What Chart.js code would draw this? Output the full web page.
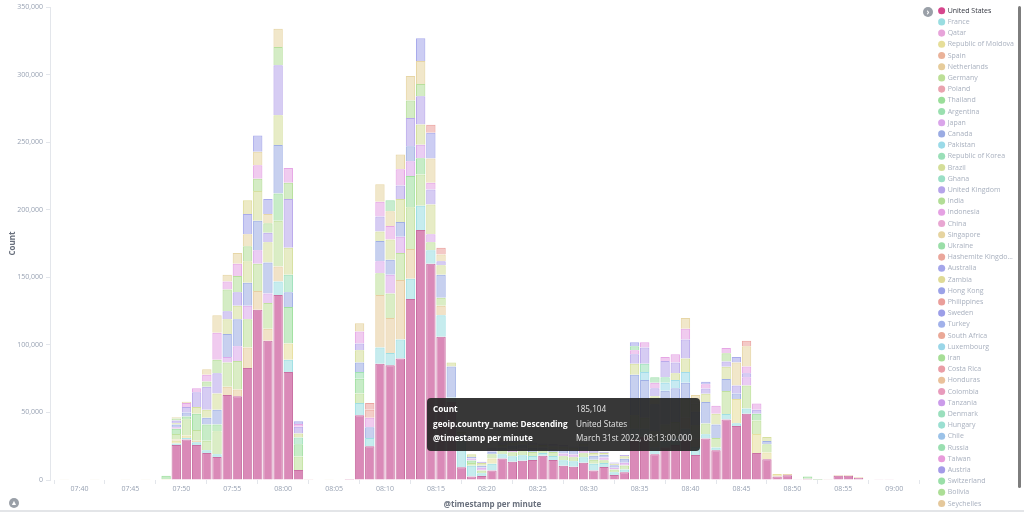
<!DOCTYPE html>
<html>
<head>
<meta charset="utf-8">
<script src="https://cdn.jsdelivr.net/npm/chart.js@4.4.1/dist/chart.umd.min.js"></script>
<style>
  html, body { margin: 0; padding: 0; background: #fff; }
  #wrap { position: relative; width: 1024px; height: 513px; overflow: hidden; font-family: 'Open Sans', sans-serif; }
  #myChart { position: absolute; left: 0; top: 0; }
  .tip { position: absolute; left: 427px; top: 398px; width: 273px; height: 53px; background: rgba(40, 40, 40, 0.93);
         border-radius: 4px; color: #fff; font-size: 8.2px; }
  .tip div { position: absolute; white-space: nowrap; }
  .tip .k { left: 6px; font-weight: bold; }
  .tip .v { left: 149px; color: #e6e6e6; }
  .scroll { position: absolute; left: 1018px; top: 6px; width: 3px; height: 482px; background: #7d7d7d; border-radius: 2px; }
  .toggle { position: absolute; left: 923px; top: 7px; width: 10px; height: 10px; border-radius: 50%; background: #9aa0a8;
            color: #fff; font-size: 8px; line-height: 9px; text-align: center; font-weight: bold; }
  .collapse { position: absolute; left: 9px; top: 498px; width: 10px; height: 10px; border-radius: 50%; background: #9aa0a8;
              color: #fff; font-size: 7px; line-height: 10px; text-align: center; }
  .bottomline { position: absolute; left: 0; top: 510px; width: 1024px; height: 2px; background: #e3e5e8; }
</style>
</head>
<body>
<div id="wrap">
  <canvas id="myChart" width="1024" height="513"></canvas>
  <div class="scroll"></div>
  <div class="toggle">›</div>
  <div class="collapse">▲</div>
  <div class="bottomline"></div>
  <div class="tip">
    <div class="k" style="top:5px">Count</div><div class="v" style="top:5px">185,104</div>
    <div class="k" style="top:19.5px">geoip.country_name: Descending</div><div class="v" style="top:19.5px">United States</div>
    <div class="k" style="top:34px">@timestamp per minute</div><div class="v" style="top:34px">March 31st 2022, 08:13:00.000</div>
  </div>
</div>
<script>
// minute buckets
const bucketTimes = [
  '07:37','07:38','07:39','07:40','07:41','07:42','07:43','07:44','07:45','07:46',
  '07:47','07:48','07:49','07:50','07:51','07:52','07:53','07:54','07:55','07:56',
  '07:57','07:58','07:59','08:00','08:01','08:02','08:03','08:04','08:05','08:06',
  '08:07','08:08','08:09','08:10','08:11','08:12','08:13','08:14','08:15','08:16',
  '08:17','08:18','08:19','08:20','08:21','08:22','08:23','08:24','08:25','08:26',
  '08:27','08:28','08:29','08:30','08:31','08:32','08:33','08:34','08:35','08:36',
  '08:37','08:38','08:39','08:40','08:41','08:42','08:43','08:44','08:45','08:46',
  '08:47','08:48','08:49','08:50','08:51','08:52','08:53','08:54','08:55','08:56',
  '08:57','08:58','08:59','09:00'
];
const tickLabels = ['07:40','07:45','07:50','07:55','08:00','08:05','08:10','08:15','08:20',
  '08:25','08:30','08:35','08:40','08:45','08:50','08:55','09:00'];

const countries = ['United States','France','Qatar','Republic of Moldova','Spain','Netherlands','Germany','Poland',
  'Thailand','Argentina','Japan','Canada','Pakistan','Republic of Korea','Brazil','Ghana','United Kingdom','India',
  'Indonesia','China','Singapore','Ukraine','Hashemite Kingdo...','Australia','Zambia','Hong Kong','Philippines',
  'Sweden','Turkey','South Africa','Luxembourg','Iran','Costa Rica','Honduras','Colombia','Tanzania','Denmark',
  'Hungary','Chile','Russia','Taiwan','Austria','Switzerland','Bolivia','Seychelles'];
const legendColors = ['#D6468D','#8ED9DE','#E49AD6','#E3DA8E','#E8AA8E','#E3C690','#B5DC8C','#E899A6',
  '#8FDA8F','#8FDCA6','#D69BE8','#8FA2E0','#8FD6E6','#8FDCB0','#CFDA8E','#8FDCC0','#AE9AE8','#AAD98B',
  '#E297E0','#E69CCD','#E3CF96','#8FDA9F','#E89C90','#9A9CE8','#DBD68B','#9098E6','#E8948F',
  '#9193E6','#97A9E8','#E89E8C','#8FD2E6','#9CDA8B','#E8929C','#E8BA90','#E690B5','#C590E8','#8FDCB6',
  '#8FDCCC','#90BBE6','#8FDCA8','#E690D7','#9A90E6','#8FDC9F','#A3DA8B','#E2C290'];

const unitedStates = [
  300,300,400,300,300,400,300,300,300,300,
  300,300,26000,30000,26000,20000,17000,63000,62000,83000,
  126000,103000,137000,80000,7400,500,300,300,300,800,
  48000,25000,86000,85000,90000,134000,185104,160000,106000,58000,
  9500,2500,3000,7000,16000,13500,14300,14800,18000,14800,
  10600,9800,12800,7000,9600,3700,5700,30000,32000,19000,
  24000,26000,30000,18500,30800,22000,44800,40000,49000,20000,
  15400,2500,3500,500,1000,200,200,3200,3200,1700,
  400,200,200,400];
const france = [
  0,0,0,0,0,0,0,0,0,0,
  0,0,1000,1000,2000,2000,2000,0,0,0,
  0,0,10000,9000,0,0,0,0,0,0,
  9000,6000,12000,9000,14000,15000,18000,10000,16000,3000,
  22000,8000,2000,5000,3000,4000,4000,3000,2000,3000,
  4000,4000,4000,5000,3000,2000,2000,8000,6000,5000,
  5000,5000,8000,6000,3000,2000,4000,2000,4000,0,
  0,0,0,0,0,0,0,0,0,0,
  0,0,0,0];
const moldova = [
  0,0,0,0,0,0,0,0,0,0,
  0,400,2000,2000,0,0,0,0,0,0,
  0,0,0,12000,0,0,0,0,0,0,
  0,0,0,0,0,0,0,0,0,0,
  0,0,0,4000,0,0,0,0,0,0,
  0,0,0,0,0,0,0,0,0,0,
  0,0,0,0,0,0,0,18000,0,14000,
  5000,1900,0,0,0,0,200,0,0,500,
  0,0,0,0];
const netherlands = [
  0,200,0,0,200,0,0,200,0,200,
  0,0,1000,0,1000,0,0,6000,5000,15000,
  14000,9000,11000,0,0,300,0,300,0,0,
  0,0,39000,26000,44000,22000,0,0,7000,0,
  0,0,0,0,0,0,0,0,0,0,
  0,0,0,0,0,0,0,0,0,0,
  0,0,8000,6000,0,0,0,0,0,0,
  0,0,900,0,0,0,0,500,500,0,
  0,0,0,0];
const germany = [
  0,0,0,0,0,0,0,0,0,0,
  0,0,4000,12000,8000,7000,17000,18000,21000,21000,
  20000,19000,34000,0,10000,0,0,0,0,0,
  7000,0,16000,18000,20000,31000,23000,6000,6000,0,
  0,2000,2000,3000,3000,3000,3000,3000,2000,3000,
  3000,3000,3000,3000,2000,2000,3000,10000,8000,12000,
  12000,12000,14000,10000,8000,7000,17000,0,17000,10000,
  6000,0,0,0,0,0,0,0,0,0,
  0,0,0,0];
const thailand = [
  0,0,0,0,0,0,0,0,0,0,
  0,2500,4000,2000,12000,12000,5000,0,0,0,
  0,0,20000,27000,9000,0,0,0,0,0,
  11000,0,0,0,0,23000,12000,0,0,0,
  0,2000,0,0,0,0,0,0,0,0,
  0,0,0,0,0,0,0,0,0,0,
  0,0,0,0,0,0,0,0,0,5000,
  0,0,0,0,1500,600,0,0,0,0,
  0,0,0,0];
const argentina = [
  0,0,0,0,0,0,0,0,0,0, 0,0,0,0,0,0,0,0,0,0, 0,0,0,0,0,0,0,0,0,0,
  5000,0,0,0,0,0,0,0,0,0, 0,0,0,0,0,0,0,0,0,0, 0,0,0,0,0,0,0,0,0,0,
  0,0,0,0,0,0,0,0,0,0, 0,0,0,0,0,0,0,0,0,0, 0,0,0,0];
const japan = [
  0,0,0,0,0,0,0,0,0,0,
  0,0,1000,0,0,0,0,4000,11000,10000,
  10000,7000,0,0,0,0,0,0,0,0,
  0,0,9000,14000,12000,11000,10000,6000,0,0,
  0,1500,2000,0,0,2000,2000,0,0,0,
  2000,2000,2000,0,2000,1300,2000,0,0,0,
  0,0,0,0,0,0,0,0,6000,0,
  0,0,0,0,0,0,0,0,0,0,
  0,0,0,0];
const canada = [
  0,0,0,0,0,0,0,0,0,0,
  0,0,2000,3000,0,5000,11000,17000,20000,17000,
  22000,23000,36000,11000,0,0,0,0,0,0,
  7000,8000,15000,11000,11000,11000,0,0,17000,23000,
  2000,1000,1500,2000,2000,3000,3000,3000,2000,2000,
  3000,3000,3000,3000,2000,2000,3000,30000,28000,20000,
  25000,25000,12000,10000,16000,10000,9000,4000,0,0,
  2400,0,0,0,0,0,0,0,0,0,
  0,0,0,0];
const pakistan = [
  0,0,0,0,0,0,0,0,0,0, 0,0,0,0,0,0,0,0,0,0, 0,0,0,0,0,0,0,0,0,0,
  0,0,0,0,0,0,0,0,0,0, 0,0,0,0,0,0,0,0,0,0, 0,0,0,0,0,0,0,0,6000,0,
  6000,6000,8000,0,0,0,0,0,0,0, 0,0,0,0,0,0,0,0,0,0, 0,0,0,0];
const korea = [
  0,0,0,0,0,0,0,0,0,0, 0,0,0,0,0,0,0,0,0,0, 0,0,0,13000,5000,0,0,0,0,0,
  0,0,0,0,0,0,0,0,0,0, 0,0,0,0,0,0,0,0,0,0, 0,0,0,0,0,0,0,0,6000,0,
  4000,0,0,0,0,0,0,0,0,0, 0,0,0,0,0,0,0,0,0,0, 0,0,0,0];
const brazil = [
  0,0,0,0,0,0,0,0,0,0,
  0,0,1000,0,5000,6000,12000,11000,10000,16000,
  22000,15000,22000,20000,3000,0,0,0,0,0,
  9000,0,7000,15000,17000,0,15000,22000,7000,3000,
  2000,2000,2000,0,2000,2000,2000,2000,2000,2000,
  2000,2000,2000,2000,1400,1000,1800,8000,0,6000,
  0,5000,10000,6000,6000,8000,9000,0,0,0,
  3000,0,0,0,0,0,0,0,0,0,
  0,0,0,0];
const unitedKingdom = [
  0,0,0,0,0,0,0,0,0,0,
  0,0,2000,4000,11000,17000,15000,6000,10000,0,
  0,7000,37000,36000,5000,0,0,0,0,0,
  5000,0,11000,0,10000,21000,21000,11000,3000,0,
  0,0,1000,3000,2000,1500,1700,2000,1000,2000,
  1400,1000,1000,2000,1000,1000,1000,7000,12000,6000,
  12000,8000,14000,0,4000,0,4000,6000,3000,3000,
  0,0,0,0,0,0,0,0,0,0,
  0,0,0,0];
const india = [
  0,0,0,0,0,0,0,0,0,0,
  0,0,1500,0,0,4000,10000,16000,12000,11000,
  9000,7000,13500,12000,0,0,0,0,0,0,
  0,0,0,0,0,13000,9000,0,0,0,
  0,0,0,0,0,0,0,0,0,0,
  0,0,0,0,0,0,0,0,0,0,
  0,0,0,0,0,0,6000,0,0,0,
  0,0,0,0,0,0,0,0,0,0,
  0,0,0,0];
const indonesia = [
  0,0,0,0,0,0,0,0,0,0,
  0,0,0,3000,3000,5000,20000,6000,9000,0,
  10000,0,0,11000,2000,0,0,0,0,0,
  9000,7000,11000,10000,12000,0,0,5000,0,0,
  0,0,0,0,0,0,0,0,0,0,
  0,0,0,0,0,0,0,3000,4000,4000,
  3000,6000,8000,0,3000,6000,4000,0,5000,4600,
  0,0,0,0,0,0,0,0,0,0,
  0,0,0,0];
const singapore = [
  0,0,0,0,0,0,0,0,0,0,
  0,0,1000,1000,0,4000,13000,5000,8000,9000,
  10000,7000,13500,0,0,0,0,0,0,0,
  6000,0,13000,11000,11000,18000,17000,18000,5000,0,
  0,0,0,0,0,0,0,0,0,0,
  0,0,0,0,0,0,0,0,0,0,
  0,0,8000,6500,0,0,0,17000,15000,0,
  0,0,0,0,0,0,0,0,0,0,
  0,0,0,0];
const ukraine = [
  0,0,0,0,0,0,0,0,0,0, 0,0,0,0,0,0,0,0,0,0, 0,0,0,0,0,0,0,0,0,0,
  0,0,0,8000,0,0,0,0,0,0, 0,0,0,0,0,0,0,0,0,0, 0,0,0,0,0,0,0,3000,0,4000,
  0,0,0,0,0,0,0,0,0,0, 0,0,0,0,0,0,0,0,0,0, 0,0,0,0];
const hashemite = [
  0,0,0,0,0,0,0,0,0,0, 0,0,0,0,0,0,0,0,0,0, 0,0,0,0,0,0,0,0,0,0,
  0,6000,0,0,0,0,0,0,0,0, 0,0,0,0,0,0,0,0,0,0, 0,0,0,0,0,0,0,0,0,0,
  0,0,0,0,0,0,0,0,0,0, 0,0,0,0,0,0,0,0,0,0, 0,0,0,0];
const australia = [
  0,0,0,0,0,0,0,0,0,0, 0,0,0,0,0,0,0,0,0,15000, 12000,11000,0,0,2000,0,0,0,0,0,
  0,0,0,0,0,0,17000,19000,0,0, 0,0,0,0,0,0,0,0,0,0, 0,0,0,0,0,0,0,3000,0,0,
  0,0,0,0,2000,0,0,4000,0,0, 0,0,0,0,0,0,0,0,0,0, 0,0,0,0];
const zambia = [
  0,0,0,0,0,0,0,0,0,0, 0,0,0,0,0,0,0,0,0,10000, 0,0,0,0,0,0,0,0,0,0,
  0,0,0,0,0,0,0,0,0,0, 0,0,0,0,0,0,0,0,0,0, 0,0,0,0,0,0,0,0,0,0,
  0,0,0,0,0,0,0,0,0,0, 0,0,0,0,0,0,0,0,0,0, 0,0,0,0];
const philippines = [
  0,0,0,0,0,0,0,0,0,0, 0,0,0,0,0,0,0,0,0,0, 0,0,0,0,0,0,0,0,0,0,
  0,5000,0,0,0,0,0,6000,5000,0, 0,0,0,0,0,0,0,0,0,0, 0,0,0,0,0,0,0,0,0,0,
  0,0,0,0,0,0,0,0,4000,0, 0,0,0,0,0,0,0,0,0,0, 0,0,0,0];

const seriesByCountry = {
  'United States': unitedStates, 'France': france, 'Republic of Moldova': moldova, 'Netherlands': netherlands,
  'Germany': germany, 'Thailand': thailand, 'Argentina': argentina, 'Japan': japan, 'Canada': canada,
  'Pakistan': pakistan, 'Republic of Korea': korea, 'Brazil': brazil, 'United Kingdom': unitedKingdom,
  'India': india, 'Indonesia': indonesia, 'Singapore': singapore, 'Ukraine': ukraine,
  'Hashemite Kingdo...': hashemite, 'Australia': australia, 'Zambia': zambia, 'Philippines': philippines
};

const fontFamily = "'Open Sans', sans-serif";

function toMin(t) {
    const parts = t.split(':');
    return parseInt(parts[0], 10) * 60 + parseInt(parts[1], 10) - 420;
}

function withAlpha(hex, a) {
    const n = parseInt(hex.slice(1), 16);
    return `rgba(${(n >> 16) & 255}, ${(n >> 8) & 255}, ${n & 255}, ${a})`;
}

const datasets = countries.map((name, i) => {
    const values = seriesByCountry[name] || [];
    return {
        label: name,
        data: values.map((v, j) => ({ x: toMin(bucketTimes[j]) + 0.5, y: v ? v : null })),
        backgroundColor: i === 0 ? '#DA8AB8' : withAlpha(legendColors[i], 0.5),
        borderColor: i === 0 ? '#C96FA2' : withAlpha(legendColors[i], 0.85),
        borderWidth: 1,
        categoryPercentage: 1,
        barPercentage: 0.92
    };
});

const ctx = document.getElementById('myChart').getContext('2d');

const countChart = new Chart(ctx, {
    type: 'bar',
    data: { datasets: datasets },
    options: {
        responsive: false,
        animation: false,
        devicePixelRatio: 1,
        layout: { padding: { left: 8, right: 0, top: 3, bottom: 0 } },
        plugins: {
            tooltip: { enabled: false },
            legend: {
                position: 'right',
                align: 'start',
                maxWidth: 90,
                labels: {
                    usePointStyle: true,
                    boxWidth: 5,
                    boxHeight: 5,
                    padding: 4.2,
                    font: { size: 7, family: fontFamily },
                    generateLabels: function (chart) {
                        return chart.data.datasets.map((ds, i) => ({
                            text: ds.label,
                            fillStyle: i === 0 ? legendColors[0] : withAlpha(legendColors[i], 0.9),
                            strokeStyle: 'rgba(0,0,0,0)',
                            lineWidth: 0,
                            pointStyle: 'circle',
                            fontColor: i === 0 ? '#343741' : '#A9B1BF',
                            hidden: false,
                            datasetIndex: i
                        }));
                    }
                }
            }
        },
        scales: {
            x: {
                type: 'linear',
                stacked: true,
                offset: false,
                min: 37.1,
                max: 124,
                afterBuildTicks: function (scale) {
                    scale.ticks = tickLabels.map(t => ({ value: toMin(t) }));
                },
                afterFit: function (scale) { scale.height = 33; },
                ticks: {
                    autoSkip: false,
                    maxRotation: 0,
                    padding: 1,
                    color: '#98A2B3',
                    font: { size: 7, family: fontFamily },
                    callback: function (value) {
                        const found = tickLabels.find(t => toMin(t) === value);
                        return found || '';
                    }
                },
                grid: { drawOnChartArea: false, tickLength: 4, color: '#E3E6EB' },
                border: { display: false },
                title: {
                    display: true,
                    text: '@timestamp per minute',
                    color: '#69707D',
                    font: { size: 8, weight: 'bold', family: fontFamily },
                    padding: { top: 0, bottom: 3 }
                }
            },
            y: {
                stacked: true,
                min: 0,
                max: 350000,
                afterFit: function (scale) { scale.width = 42; },
                ticks: {
                    stepSize: 50000,
                    padding: 3,
                    color: '#98A2B3',
                    font: { size: 7, family: fontFamily },
                    callback: v => v.toLocaleString('en-US')
                },
                grid: { drawOnChartArea: false, tickLength: 4, color: '#E3E6EB' },
                border: { display: true, color: '#E3E6EB' },
                title: {
                    display: true,
                    text: 'Count',
                    color: '#69707D',
                    font: { size: 8, weight: 'bold', family: fontFamily },
                    padding: { top: 0, bottom: 4 }
                }
            }
        }
    }
});
</script>
</body>
</html>
